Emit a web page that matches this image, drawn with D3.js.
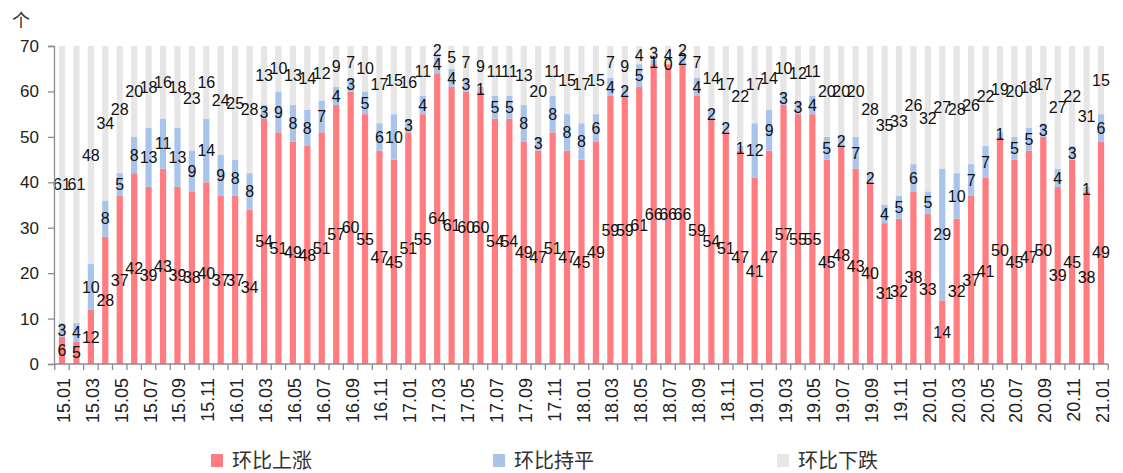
<!DOCTYPE html>
<html>
<head>
<meta charset="utf-8">
<script src="https://cdn.jsdelivr.net/npm/d3@7/dist/d3.min.js"></script>
<style>
  html, body { margin: 0; padding: 0; background: #fff; }
  svg { display: block; }
</style>
</head>
<body>
<div id="chart"></div>
<script>
// Monthly city counts: month-on-month rising / flat / falling
const months = [
  "15.01","15.02","15.03","15.04","15.05","15.06","15.07","15.08","15.09","15.10","15.11","15.12",
  "16.01","16.02","16.03","16.04","16.05","16.06","16.07","16.08","16.09","16.10","16.11","16.12",
  "17.01","17.02","17.03","17.04","17.05","17.06","17.07","17.08","17.09","17.10","17.11","17.12",
  "18.01","18.02","18.03","18.04","18.05","18.06","18.07","18.08","18.09","18.10","18.11","18.12",
  "19.01","19.02","19.03","19.04","19.05","19.06","19.07","19.08","19.09","19.10","19.11","19.12",
  "20.01","20.02","20.03","20.04","20.05","20.06","20.07","20.08","20.09","20.10","20.11","20.12",
  "21.01"
];
const rising = [
  6,5,12,28,37,42,39,43,39,38,40,37,
  37,34,54,51,49,48,51,57,60,55,47,45,
  51,55,64,61,60,60,54,54,49,47,51,47,
  45,49,59,59,61,66,66,66,59,54,51,47,
  41,47,57,55,55,45,48,43,40,31,32,38,
  33,14,32,37,41,50,45,47,50,39,45,38,
  49
];
const flat = [
  3,4,10,8,5,8,13,11,13,9,14,9,
  8,8,3,9,8,8,7,4,3,5,6,10,
  3,4,4,4,3,1,5,5,8,3,8,8,
  8,6,4,2,5,1,0,2,4,2,2,1,
  12,9,3,3,4,5,2,7,2,4,5,6,
  5,29,10,7,7,1,5,5,3,4,3,1,
  6
];
const falling = [
  61,61,48,34,28,20,18,16,18,23,16,24,
  25,28,13,10,13,14,12,9,7,10,17,15,
  16,11,2,5,7,9,11,11,13,20,11,15,
  17,15,7,9,4,3,4,2,7,14,17,22,
  17,14,10,12,11,20,20,20,28,35,33,26,
  32,27,28,26,22,19,20,18,17,27,22,31,
  15
];
const seriesNames = ["环比上涨", "环比持平", "环比下跌"];
const seriesColors = ["#FF7C80", "#A9C4EB", "#E6E6E6"];
const yTicks = [0, 10, 20, 30, 40, 50, 60, 70];
const xTickLabels = months.filter((m, i) => i % 2 === 0);

const W = 1123, H = 473;
const margin = { left: 55, right: 15, top: 46, bottom: 109 };

const rows = months.map((m, i) => ({ month: m, rising: rising[i], flat: flat[i], falling: falling[i] }));
const keys = ["rising", "flat", "falling"];
const stacked = d3.stack().keys(keys)(rows);

const svg = d3.select("#chart").append("svg")
  .attr("width", W).attr("height", H);

const x = d3.scaleBand()
  .domain(months)
  .range([margin.left, W - margin.right])
  .paddingInner(0.57)
  .paddingOuter(0.27);

const y = d3.scaleLinear()
  .domain([0, 70])
  .range([H - margin.bottom, margin.top]);

const numFont = "'Liberation Sans', Arial, sans-serif";
const cjkFont = "'Noto Sans CJK SC', sans-serif";

// Stacked bars
const layer = svg.append("g").selectAll("g")
  .data(stacked)
  .join("g")
  .attr("fill", (d, i) => seriesColors[i]);

layer.selectAll("rect")
  .data(d => d)
  .join("rect")
  .attr("x", d => x(d.data.month))
  .attr("y", d => y(d[1]))
  .attr("width", x.bandwidth())
  .attr("height", d => y(d[0]) - y(d[1]));

// Value labels, centred in each segment
const labels = svg.append("g")
  .attr("font-family", numFont)
  .attr("font-size", 16)
  .attr("fill", "#111")
  .attr("text-anchor", "middle");

stacked.forEach(s => {
  labels.selectAll(null)
    .data(s)
    .join("text")
    .attr("x", d => x(d.data.month) + x.bandwidth() / 2)
    .attr("y", d => y((d[0] + d[1]) / 2))
    .attr("dy", "0.36em")
    .text(d => d[1] - d[0]);
});

// Y axis
const yAxis = svg.append("g")
  .attr("transform", `translate(${margin.left - 1},0)`)
  .call(d3.axisLeft(y).tickValues(yTicks).tickSize(6).tickPadding(9));
yAxis.select(".domain").attr("stroke", "#8c8c8c").attr("stroke-width", 1.3);
yAxis.selectAll(".tick line").attr("stroke", "#8c8c8c").attr("stroke-width", 1.3);
yAxis.selectAll(".tick text")
  .attr("font-family", numFont).attr("font-size", 17).attr("fill", "#222");

// Unit label
svg.append("text")
  .attr("x", 12).attr("y", 27)
  .attr("font-family", cjkFont)
  .attr("font-size", 18).attr("fill", "#333")
  .text("个");

// X axis: line, ticks on category boundaries, labels every other month
const baseY = y(0);
const xg = svg.append("g");
xg.append("line")
  .attr("x1", margin.left - 1).attr("x2", W - margin.right)
  .attr("y1", baseY).attr("y2", baseY)
  .attr("stroke", "#8c8c8c").attr("stroke-width", 1.3);

const gap = x.step() - x.bandwidth();
const boundaries = months.map(m => x(m) - gap / 2)
  .concat([x(months[months.length - 1]) + x.bandwidth() + gap / 2]);
xg.selectAll("line.tick")
  .data(boundaries)
  .join("line")
  .attr("class", "tick")
  .attr("x1", d => d).attr("x2", d => d)
  .attr("y1", baseY).attr("y2", baseY + 6)
  .attr("stroke", "#8c8c8c").attr("stroke-width", 1.3);

xg.selectAll("text")
  .data(xTickLabels)
  .join("text")
  .attr("transform", d => `translate(${x(d) + x.bandwidth() / 2 + 8},${baseY + 14}) rotate(-90)`)
  .attr("text-anchor", "end")
  .attr("font-family", numFont)
  .attr("font-size", 18)
  .attr("fill", "#222")
  .text(d => d);

// Legend
const legendX = [211, 493, 777];
const legend = svg.append("g").selectAll("g")
  .data(seriesNames)
  .join("g")
  .attr("transform", (d, i) => `translate(${legendX[i]},${454})`);
legend.append("rect")
  .attr("width", 12).attr("height", 13)
  .attr("fill", (d, i) => seriesColors[i]);
legend.append("text")
  .attr("x", 21).attr("y", 7)
  .attr("dy", "0.36em")
  .attr("font-family", cjkFont)
  .attr("font-size", 20)
  .attr("fill", "#333")
  .text(d => d);
</script>
</body>
</html>
